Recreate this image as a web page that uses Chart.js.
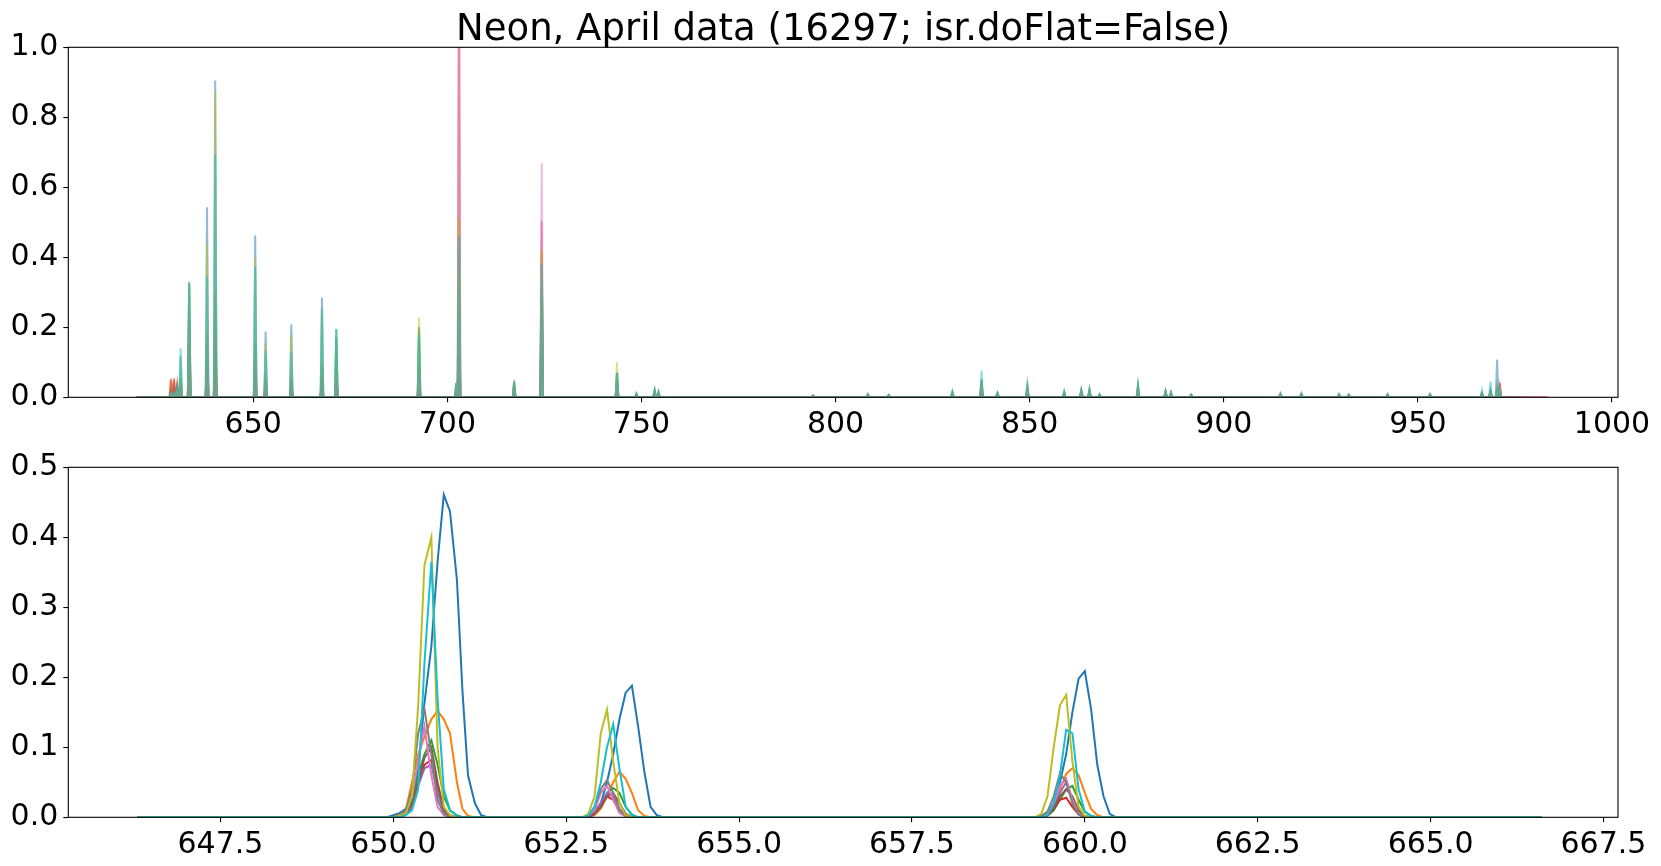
<!DOCTYPE html>
<html>
<head>
<meta charset="utf-8">
<script src="https://cdn.jsdelivr.net/npm/chart.js@4"></script>
<style>
  body { margin: 0; background: #fff; }
  .box { position: absolute; left: 0; width: 1661px; }
</style>
</head>
<body>
<div class="box" style="top:0;height:440px"><canvas id="spectrum-top" width="1661" height="440"></canvas></div>
<div class="box" style="top:440px;height:426px"><canvas id="spectrum-zoom" width="1661" height="426"></canvas></div>
<script>
// tab10 order: blue, orange, green, red, purple, brown, pink, grey, olive, cyan
const colors = ["#1f77b4", "#ff7f0e", "#2ca02c", "#d62728", "#9467bd", "#8c564b", "#e377c2", "#7f7f7f", "#bcbd22", "#17becf"];

// ---- top panel: full spectrum, line peaks (nm) and peak heights per spectrum
const topLines = [628.8, 629.6, 630.4, 631.3, 633.5, 638.1, 640.2, 650.5, 653.2, 659.8, 667.7, 671.4, 692.7, 702.3, 703.0, 717.2,
  724.3, 743.7, 748.7, 753.4, 754.4, 794.2, 808.3, 813.7, 830.1, 837.6, 841.7, 849.4, 858.9, 863.3, 865.4, 868.0,
  877.9, 885.0, 886.4, 891.6, 914.6, 920.0, 929.7, 932.2, 942.2, 953.1, 966.5, 968.7, 970.4, 971.1];
const topBlue   = [0.01, 0.01, 0.02, 0.055, 0.33, 0.543, 0.905, 0.462, 0.188, 0.209, 0.285, 0.17, 0.20, 0.04, 0.46, 0.04, 0.383, 0.07, 0.01, 0.02, 0.015, 0.005, 0.008, 0.006, 0.015, 0.05, 0.012, 0.03, 0.015, 0.02, 0.022, 0.008, 0.03, 0.017, 0.013, 0.007, 0.01, 0.01, 0.008, 0.007, 0.008, 0.008, 0.01, 0.02, 0.108, 0.02];
const topOrange = [0.054, 0.05, 0.03, 0.03, 0.2, 0.18, 0.3, 0.154, 0.065, 0.07, 0.1, 0.08, 0.09, 0.02, 0.51, 0.03, 0.418, 0.05, 0.008, 0.015, 0.01, 0.004, 0.006, 0.005, 0.01, 0.03, 0.008, 0.02, 0.01, 0.015, 0.015, 0.006, 0.02, 0.012, 0.01, 0.005, 0.008, 0.008, 0.006, 0.005, 0.006, 0.006, 0.01, 0.015, 0.02, 0.04];
const topGreen  = [0.01, 0.01, 0.03, 0.117, 0.32, 0.15, 0.25, 0.11, 0.042, 0.045, 0.08, 0.195, 0.20, 0.04, 0.30, 0.045, 0.30, 0.07, 0.01, 0.02, 0.015, 0.005, 0.008, 0.006, 0.015, 0.05, 0.012, 0.03, 0.015, 0.02, 0.022, 0.008, 0.035, 0.017, 0.013, 0.007, 0.01, 0.01, 0.008, 0.007, 0.008, 0.008, 0.01, 0.015, 0.02, 0.02];
const topRed    = [0.05, 0.054, 0.04, 0.03, 0.15, 0.1, 0.16, 0.085, 0.03, 0.028, 0.05, 0.05, 0.06, 0.02, 1.2, 0.03, 0.504, 0.04, 0.006, 0.01, 0.008, 0.004, 0.005, 0.004, 0.01, 0.03, 0.008, 0.02, 0.01, 0.012, 0.012, 0.005, 0.02, 0.01, 0.008, 0.005, 0.006, 0.006, 0.005, 0.005, 0.005, 0.005, 0.01, 0.015, 0.02, 0.04];
const topPurple = [0.01, 0.01, 0.02, 0.03, 0.15, 0.1, 0.15, 0.075, 0.035, 0.05, 0.06, 0.05, 0.06, 0.02, 0.2, 0.02, 0.2, 0.03, 0.005, 0.01, 0.008, 0.004, 0.005, 0.004, 0.01, 0.02, 0.006, 0.02, 0.01, 0.012, 0.012, 0.005, 0.02, 0.01, 0.008, 0.005, 0.006, 0.006, 0.005, 0.005, 0.005, 0.005, 0.01, 0.015, 0.02, 0.02];
const topBrown  = [0.02, 0.03, 0.02, 0.03, 0.2, 0.12, 0.2, 0.10, 0.035, 0.04, 0.06, 0.05, 0.07, 0.02, 0.25, 0.03, 0.25, 0.04, 0.006, 0.012, 0.01, 0.004, 0.006, 0.005, 0.01, 0.025, 0.008, 0.02, 0.01, 0.015, 0.015, 0.006, 0.02, 0.012, 0.01, 0.005, 0.008, 0.008, 0.006, 0.005, 0.006, 0.006, 0.01, 0.015, 0.02, 0.03];
const topPink   = [0.01, 0.01, 0.02, 0.03, 0.2, 0.15, 0.25, 0.13, 0.045, 0.055, 0.08, 0.06, 0.08, 0.03, 1.3, 0.03, 0.669, 0.05, 0.008, 0.015, 0.01, 0.004, 0.006, 0.005, 0.01, 0.03, 0.008, 0.02, 0.01, 0.015, 0.015, 0.006, 0.02, 0.012, 0.01, 0.005, 0.008, 0.008, 0.006, 0.005, 0.006, 0.006, 0.01, 0.015, 0.02, 0.03];
const topGrey   = [0.01, 0.01, 0.02, 0.04, 0.25, 0.18, 0.3, 0.158, 0.053, 0.063, 0.09, 0.07, 0.10, 0.02, 0.3, 0.03, 0.3, 0.05, 0.008, 0.015, 0.01, 0.004, 0.006, 0.005, 0.01, 0.03, 0.008, 0.02, 0.01, 0.015, 0.015, 0.006, 0.02, 0.012, 0.01, 0.005, 0.008, 0.008, 0.006, 0.005, 0.006, 0.006, 0.01, 0.015, 0.02, 0.02];
const topOlive  = [0.01, 0.01, 0.02, 0.06, 0.33, 0.44, 0.874, 0.40, 0.155, 0.178, 0.25, 0.17, 0.228, 0.04, 0.51, 0.045, 0.418, 0.10, 0.01, 0.02, 0.015, 0.005, 0.008, 0.006, 0.015, 0.05, 0.012, 0.038, 0.015, 0.02, 0.022, 0.008, 0.03, 0.017, 0.013, 0.007, 0.01, 0.01, 0.008, 0.007, 0.008, 0.008, 0.01, 0.02, 0.03, 0.02];
const topCyan   = [0.01, 0.01, 0.03, 0.14, 0.325, 0.345, 0.694, 0.372, 0.133, 0.128, 0.254, 0.195, 0.18, 0.04, 0.46, 0.045, 0.383, 0.07, 0.01, 0.02, 0.015, 0.005, 0.008, 0.006, 0.015, 0.076, 0.012, 0.035, 0.015, 0.02, 0.022, 0.008, 0.035, 0.017, 0.013, 0.007, 0.01, 0.01, 0.008, 0.007, 0.008, 0.008, 0.02, 0.045, 0.03, 0.02];
const topStart = [620, 620, 620, 620, 620, 620, 620, 620, 620, 620];
const topEnd   = [972, 983.4, 972, 983.4, 976, 979, 983.4, 976, 972, 972];
const topXTicks = [650, 700, 750, 800, 850, 900, 950, 1000];
const topYTicks = [0, 0.2, 0.4, 0.6, 0.8, 1.0];

// ---- bottom panel: zoom on 646-667 nm, sampled wavelengths around the three lines
const gridA = [649.91, 650.0, 650.09, 650.18, 650.27, 650.36, 650.45, 650.55, 650.64, 650.73, 650.82, 650.92, 651.0, 651.08, 651.18, 651.27, 651.36];
const gridB = [652.73, 652.82, 652.91, 653.0, 653.09, 653.18, 653.27, 653.36, 653.45, 653.54, 653.63, 653.72, 653.81, 653.9];
const gridC = [659.28, 659.37, 659.46, 659.55, 659.64, 659.73, 659.82, 659.91, 660.0, 660.09, 660.18, 660.27, 660.36, 660.45];

const zoomA = [
  [0, 0.003, 0.006, 0.012, 0.025, 0.068, 0.163, 0.244, 0.365, 0.461, 0.437, 0.339, 0.18, 0.06, 0.02, 0.003, 0],
  [0, 0, 0.003, 0.01, 0.05, 0.09, 0.115, 0.14, 0.152, 0.14, 0.12, 0.05, 0.012, 0.002, 0, 0, 0],
  [0, 0, 0.002, 0.005, 0.02, 0.06, 0.09, 0.11, 0.075, 0.03, 0.01, 0.003, 0, 0, 0, 0, 0],
  [0, 0, 0, 0.004, 0.015, 0.05, 0.075, 0.082, 0.045, 0.012, 0.003, 0, 0, 0, 0, 0, 0],
  [0, 0, 0, 0.004, 0.015, 0.045, 0.07, 0.075, 0.035, 0.008, 0.002, 0, 0, 0, 0, 0, 0],
  [0, 0, 0, 0.005, 0.02, 0.05, 0.085, 0.10, 0.05, 0.01, 0.002, 0, 0, 0, 0, 0, 0],
  [0, 0, 0.002, 0.008, 0.03, 0.08, 0.13, 0.06, 0.015, 0.003, 0, 0, 0, 0, 0, 0, 0],
  [0, 0, 0.002, 0.01, 0.04, 0.12, 0.155, 0.09, 0.025, 0.005, 0, 0, 0, 0, 0, 0, 0],
  [0, 0, 0.002, 0.005, 0.03, 0.16, 0.36, 0.40, 0.10, 0.015, 0.003, 0, 0, 0, 0, 0, 0],
  [0, 0, 0, 0.003, 0.01, 0.04, 0.22, 0.365, 0.17, 0.04, 0.01, 0.002, 0, 0, 0, 0, 0]
];
const zoomB = [
  [0, 0.002, 0.008, 0.02, 0.05, 0.09, 0.14, 0.178, 0.188, 0.13, 0.065, 0.015, 0.003, 0],
  [0, 0, 0.003, 0.012, 0.03, 0.05, 0.065, 0.055, 0.035, 0.01, 0.002, 0, 0, 0],
  [0, 0, 0.005, 0.015, 0.035, 0.042, 0.035, 0.015, 0.004, 0, 0, 0, 0, 0],
  [0, 0, 0.006, 0.02, 0.03, 0.025, 0.01, 0.002, 0, 0, 0, 0, 0, 0],
  [0, 0, 0.005, 0.02, 0.035, 0.03, 0.012, 0.003, 0, 0, 0, 0, 0, 0],
  [0, 0, 0.005, 0.015, 0.03, 0.035, 0.02, 0.005, 0, 0, 0, 0, 0, 0],
  [0, 0.002, 0.01, 0.035, 0.045, 0.025, 0.006, 0.001, 0, 0, 0, 0, 0, 0],
  [0, 0.002, 0.015, 0.04, 0.053, 0.035, 0.01, 0.002, 0, 0, 0, 0, 0, 0],
  [0, 0.005, 0.03, 0.12, 0.154, 0.08, 0.02, 0.003, 0, 0, 0, 0, 0, 0],
  [0, 0.002, 0.015, 0.05, 0.10, 0.133, 0.07, 0.015, 0.003, 0, 0, 0, 0, 0]
];
const zoomC = [
  [0, 0.002, 0.005, 0.02, 0.05, 0.09, 0.15, 0.198, 0.209, 0.155, 0.075, 0.03, 0.005, 0],
  [0, 0, 0.003, 0.015, 0.04, 0.062, 0.07, 0.06, 0.035, 0.012, 0.003, 0, 0, 0],
  [0, 0, 0.002, 0.01, 0.025, 0.04, 0.045, 0.025, 0.008, 0.002, 0, 0, 0, 0],
  [0, 0, 0.003, 0.012, 0.025, 0.028, 0.015, 0.004, 0, 0, 0, 0, 0, 0],
  [0, 0, 0.004, 0.015, 0.035, 0.05, 0.025, 0.006, 0, 0, 0, 0, 0, 0],
  [0, 0, 0.003, 0.012, 0.03, 0.04, 0.03, 0.01, 0.002, 0, 0, 0, 0, 0],
  [0, 0, 0.005, 0.02, 0.045, 0.055, 0.025, 0.005, 0, 0, 0, 0, 0, 0],
  [0, 0.002, 0.008, 0.03, 0.063, 0.05, 0.02, 0.004, 0, 0, 0, 0, 0, 0],
  [0, 0.005, 0.03, 0.10, 0.16, 0.175, 0.08, 0.015, 0.002, 0, 0, 0, 0, 0],
  [0, 0, 0.003, 0.02, 0.06, 0.125, 0.12, 0.04, 0.008, 0.002, 0, 0, 0, 0]
];
const zoomStart = 646.3;
const zoomEnd = 666.6;
const zoomXTicks = [647.5, 650.0, 652.5, 655.0, 657.5, 660.0, 662.5, 665.0, 667.5];
const zoomYTicks = [0, 0.1, 0.2, 0.3, 0.4, 0.5];

const topHeights = [topBlue, topOrange, topGreen, topRed, topPurple, topBrown, topPink, topGrey, topOlive, topCyan];
const halfWidth = 0.35; // nm, base half-width of an unresolved line in the top panel

function topPoints(i) {
  const pts = [{ x: topStart[i], y: 0 }];
  topLines.forEach((lam, k) => {
    pts.push({ x: lam - halfWidth, y: 0 }, { x: lam, y: topHeights[i][k] }, { x: lam + halfWidth, y: 0 });
  });
  pts.push({ x: topEnd[i], y: 0 });
  return pts;
}

function zoomPoints(i) {
  const pts = [{ x: zoomStart, y: 0 }];
  gridA.forEach((x, k) => pts.push({ x: x, y: zoomA[i][k] }));
  gridB.forEach((x, k) => pts.push({ x: x, y: zoomB[i][k] }));
  gridC.forEach((x, k) => pts.push({ x: x, y: zoomC[i][k] }));
  pts.push({ x: zoomEnd, y: 0 });
  return pts;
}

function alpha(hex, a) {
  const n = parseInt(hex.slice(1), 16);
  return "rgba(" + (n >> 16) + "," + ((n >> 8) & 255) + "," + (n & 255) + "," + a + ")";
}

const framePlugin = {
  id: "frame",
  afterDraw(chart) {
    const { ctx, chartArea: a } = chart;
    ctx.save();
    ctx.strokeStyle = "#000";
    ctx.lineWidth = 1.1;
    ctx.strokeRect(a.left, a.top, a.right - a.left, a.bottom - a.top);
    ctx.restore();
  },
};

const tickFont = { family: "DejaVu Sans", size: 30 };

function axis(min, max, ticks, digits, size, isX) {
  return {
    type: "linear",
    min: min,
    max: max,
    border: { display: false },
    grid: { drawOnChartArea: false, drawTicks: true, tickLength: 5, color: "#000", lineWidth: 1.1 },
    ticks: {
      autoSkip: false,
      maxRotation: 0,
      padding: 5,
      color: "#000",
      font: tickFont,
      callback: (v) => Number(v).toFixed(digits),
    },
    afterBuildTicks: (s) => { s.ticks = ticks.map((v) => ({ value: v })); },
    afterFit: (s) => { if (isX) s.height = size; else s.width = size; },
  };
}

const common = {
  responsive: false,
  animation: false,
  events: [],
  plugins: { legend: { display: false }, tooltip: { enabled: false } },
  elements: { point: { radius: 0 }, line: { tension: 0 } },
};

new Chart(document.getElementById("spectrum-top"), {
  type: "line",
  data: {
    datasets: colors.map((c, i) => ({
      data: topPoints(i),
      borderColor: alpha(c, 0.5),
      borderWidth: 2,
      order: colors.length - i,
    })),
  },
  options: Object.assign({}, common, {
    layout: { padding: { left: 0, right: 43, top: 0, bottom: 0 } },
    plugins: {
      legend: { display: false },
      tooltip: { enabled: false },
      title: {
        display: true,
        fullSize: false,
        text: "Neon, April data (16297; isr.doFlat=False)",
        color: "#000",
        font: { family: "DejaVu Sans", size: 37, weight: "normal", lineHeight: 0.9 },
        padding: { top: 13.9, bottom: 0.1 },
      },
    },
    scales: {
      x: axis(602.36, 1001.55, topXTicks, 0, 42.7, true),
      y: axis(0, 1, topYTicks, 1, 68.3, false),
    },
  }),
  plugins: [framePlugin],
});

new Chart(document.getElementById("spectrum-zoom"), {
  type: "line",
  data: {
    datasets: colors.map((c, i) => ({
      data: zoomPoints(i),
      borderColor: c,
      borderWidth: 2,
      order: colors.length - i,
    })),
  },
  options: Object.assign({}, common, {
    layout: { padding: { left: 0, right: 43, top: 27.3, bottom: 0 } },
    scales: {
      x: axis(645.30, 667.71, zoomXTicks, 1, 48.7, true),
      y: axis(0, 0.5, zoomYTicks, 1, 68.3, false),
    },
  }),
  plugins: [framePlugin],
});
</script>
</body>
</html>
